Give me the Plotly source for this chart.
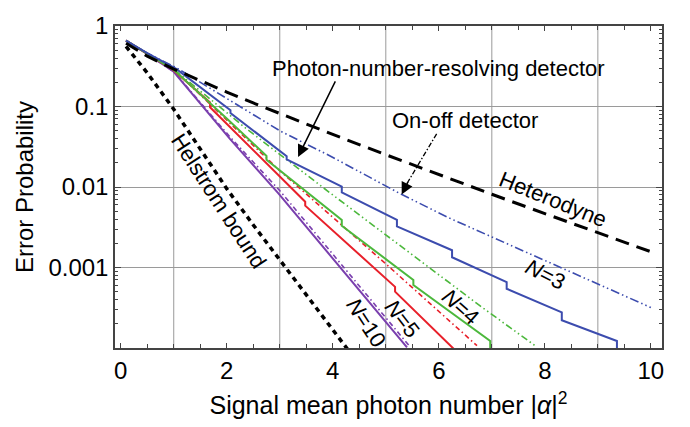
import plotly.graph_objects as go

# ---------------- data ----------------
het_x = [0.1, 0.5, 1, 1.5, 2, 2.5, 3, 4, 5, 6, 7, 8, 9, 10]
het_y = [0.611, 0.422, 0.292, 0.2085, 0.151, 0.1106, 0.0816, 0.045, 0.0252,
         0.01425, 0.00813, 0.00467, 0.0027, 0.00157]

hel_x = [0.1, 0.5, 1, 1.5, 2, 2.5, 3, 3.5, 4, 4.5]
hel_y = [0.557, 0.262, 0.0924, 0.0293, 0.00953, 0.00338, 0.00124, 0.000456,
         0.000168, 6.2e-5]

# photon-number-resolving detector (solid)
pn3_x = [0.1, 0.5, 1.04, 2.07, 2.07, 3.13, 3.13, 4.17, 4.17, 5.21, 5.21, 6.25,
         6.25, 7.28, 7.28, 8.32, 8.32, 9.36, 9.36]
pn3_y = [0.66, 0.46, 0.295, 0.090, 0.083, 0.0241, 0.0220, 0.0101, 0.0086,
         0.0039, 0.00324, 0.00164, 0.00134, 6.6e-4, 5.45e-4, 2.77e-4, 2.21e-4,
         1.22e-4, 9.5e-5]
pn4_x = [0.1, 0.5, 1.0, 2.0, 2.75, 2.75, 4.17, 4.17, 5.52, 5.52, 6.97, 6.97]
pn4_y = [0.66, 0.455, 0.285, 0.071, 0.0243, 0.0218, 0.0039, 0.0033, 7.0e-4,
         6.07e-4, 1.22e-4, 9.5e-5]
pn5_x = [0.1, 0.5, 0.99, 1.685, 1.685, 3.48, 3.48, 5.175, 5.175, 6.3]
pn5_y = [0.66, 0.45, 0.284, 0.112, 0.098, 0.00655, 0.00587, 5.75e-4, 5.01e-4,
         9.5e-5]
pn10_x = [0.1, 0.5, 1.0, 2.06, 2.97, 4.14, 5.40]
pn10_y = [0.66, 0.45, 0.27, 0.0397, 0.00838, 9.93e-4, 1.02e-4]

# on-off detector (broken lines)
oo3_x = [0.1, 0.5, 1.06, 3.01, 3.95, 5.27, 6.21, 8.10, 10.0]
oo3_y = [0.66, 0.46, 0.300, 0.0495, 0.0243, 0.00826, 0.00408, 0.00114, 3.18e-4]
oo4_x = [0.1, 0.5, 1.0, 2.38, 3.95, 6.78, 7.85]
oo4_y = [0.66, 0.455, 0.29, 0.0523, 0.00844, 3.33e-4, 1.03e-4]
oo5_x = [0.1, 0.5, 1.0, 3.01, 5.02, 6.72]
oo5_y = [0.66, 0.455, 0.288, 0.0157, 1.08e-3, 1.07e-4]
oo10_x = [0.1, 0.5, 1.0, 2.06, 3.01, 5.46]
oo10_y = [0.66, 0.45, 0.272, 0.0420, 0.00885, 1.03e-4]

x_ticks = [0, 2, 4, 6, 8, 10]
x_grid = [1, 3, 5, 7, 9]
y_ticks = [1, 0.1, 0.01, 0.001]
y_ticktext = ["1", "0.1", "0.01", "0.001"]

# ---------------- styles ----------------
BLUE = "#3c4cae"
GREEN = "#4cb83c"
RED = "#e8202a"
PURPLE = "#7a3fae"
FONT = "Liberation Sans, Arial, sans-serif"

fig = go.Figure()

def add(x, y, color, width, dash):
    fig.add_trace(go.Scatter(x=x, y=y, mode="lines", hoverinfo="skip",
                             line=dict(color=color, width=width, dash=dash)))

add(oo10_x, oo10_y, PURPLE, 1.6, "5px,3px,1.5px,3px")
add(oo5_x, oo5_y, RED, 1.6, "5px,3px,1.5px,3px")
add(oo4_x, oo4_y, GREEN, 1.6, "7px,3px,1.5px,3px,1.5px,3px")
add(oo3_x, oo3_y, BLUE, 1.6, "9px,3px,1.5px,3px,1.5px,3px")
add(pn10_x, pn10_y, PURPLE, 2, "solid")
add(pn5_x, pn5_y, RED, 2, "solid")
add(pn4_x, pn4_y, GREEN, 2, "solid")
add(pn3_x, pn3_y, BLUE, 2, "solid")
add(het_x, het_y, "black", 3, "14px,8px")
add(hel_x, hel_y, "black", 3.5, "5px,4.5px")

# vertical grid lines at odd x
shapes = [dict(type="line", xref="x", yref="paper", x0=g, x1=g, y0=0, y1=1,
               line=dict(color="#9a9a9a", width=1), layer="below") for g in x_grid]
# dash-dot arrow shaft for the on-off label
shapes.append(dict(type="line", xref="paper", yref="paper",
                   x0=0.588, y0=0.665, x1=0.530, y1=0.500,
                   line=dict(color="black", width=1.3, dash="5px,2px,1.5px,2px")))

minor_y = [k * 10.0 ** e for e in range(-4, 0) for k in range(2, 10)]

ann_font = dict(family=FONT, size=22, color="black")
annotations = [
    dict(x=5.99, y=-0.534, text="Photon-number-resolving detector",
         showarrow=False, font=ann_font),
    dict(x=3.345, y=-1.626, text="", showarrow=True, ax=38, ay=-77,
         arrowhead=2, arrowsize=1.6, arrowwidth=1.5, arrowcolor="black"),
    dict(x=6.50, y=-1.175, text="On-off detector", showarrow=False, font=ann_font),
    dict(x=5.30, y=-2.093, text="", showarrow=True, ax=7, ay=-14,
         arrowhead=2, arrowsize=1.6, arrowwidth=1.5, arrowcolor="black"),
    dict(x=8.16, y=-2.16, text="Heterodyne", showarrow=False, textangle=22,
         font=ann_font),
    dict(x=1.84, y=-2.172, text="Helstrom bound", showarrow=False, textangle=57,
         font=ann_font),
    dict(x=8.02, y=-3.086, text="<i>N</i>=3", showarrow=False, textangle=27,
         font=ann_font),
    dict(x=6.40, y=-3.49, text="<i>N</i>=4", showarrow=False, textangle=42,
         font=ann_font),
    dict(x=5.31, y=-3.632, text="<i>N</i>=5", showarrow=False, textangle=52,
         font=ann_font),
    dict(x=4.63, y=-3.68, text="<i>N</i>=10", showarrow=False, textangle=57,
         font=ann_font),
]

fig.update_layout(
    width=690, height=427,
    margin=dict(l=115, r=28, t=12, b=78),
    paper_bgcolor="white", plot_bgcolor="white",
    showlegend=False,
    font=dict(family=FONT, color="black"),
    shapes=shapes, annotations=annotations,
    xaxis=dict(
        range=[-0.108, 10.21], tickvals=x_ticks, showgrid=False, zeroline=False,
        ticks="inside", ticklen=5, tickcolor="#444", showline=True,
        linecolor="#444", linewidth=1.5, mirror="ticks",
        tickfont=dict(family=FONT, size=24, color="black"),
        minor=dict(dtick=0.5, tick0=0, ticks="inside", ticklen=4, tickcolor="#444",
                   showgrid=False),
        title=dict(text="Signal mean photon number |<i>α</i>|<sup>2</sup>",
                   font=dict(family=FONT, size=25, color="black"), standoff=14),
    ),
    yaxis=dict(
        type="log", range=[-4, 0], tickvals=y_ticks, ticktext=y_ticktext,
        showgrid=True, gridcolor="#9a9a9a", gridwidth=1, zeroline=False,
        ticks="inside", ticklen=6, tickcolor="#444", showline=True,
        linecolor="#444", linewidth=1.5, mirror="ticks",
        tickfont=dict(family=FONT, size=24, color="black"),
        minor=dict(tickvals=minor_y, ticks="inside", ticklen=3, tickcolor="#444",
                   showgrid=False),
        title=dict(text="Error Probability",
                   font=dict(family=FONT, size=24, color="black"), standoff=8),
    ),
)

fig.write_html("out.html")
